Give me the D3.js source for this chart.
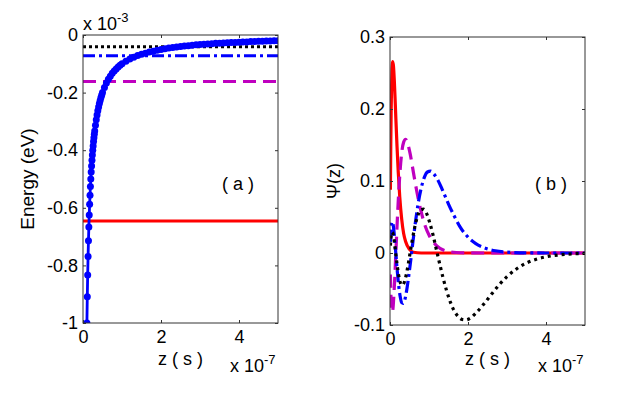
<!DOCTYPE html>
<html>
<head>
<meta charset="utf-8">
<script src="https://cdn.jsdelivr.net/npm/d3@7"></script>
<style>
  body { margin: 0; background: #fff; }
  text { font-family: "Liberation Sans", Arial, sans-serif; fill: #000; }
</style>
</head>
<body>
<svg id="chart" width="633" height="393"></svg>
<script>
"use strict";

/* Panel (a): bound energy levels (x 1e-3 eV) and the potential curve */
const levelEnergy = [-0.646, -0.1615, -0.0718, -0.0404];

const potZ = [0.10, 0.11, 0.12, 0.13, 0.14, 0.15, 0.16, 0.17, 0.18, 0.19, 0.20,
  0.21, 0.22, 0.23, 0.24, 0.25, 0.26, 0.27, 0.28, 0.29, 0.30,
  0.32, 0.34, 0.36, 0.38, 0.40, 0.42, 0.44, 0.46, 0.48, 0.50,
  0.55, 0.60, 0.65, 0.70, 0.75, 0.80, 0.85, 0.90, 0.95, 1.00,
  1.1, 1.2, 1.3, 1.4, 1.5, 1.6, 1.7, 1.8, 1.9, 2.0,
  2.1, 2.2, 2.3, 2.4, 2.5, 2.6, 2.7, 2.8, 2.9, 3.0,
  3.1, 3.2, 3.3, 3.4, 3.5, 3.6, 3.7, 3.8, 3.9, 4.0,
  4.1, 4.2, 4.3, 4.4, 4.5, 4.6, 4.7, 4.8, 4.9, 5.0];
const potE = [-1.000, -0.909, -0.833, -0.769, -0.714, -0.667, -0.625, -0.588, -0.556, -0.526, -0.500,
  -0.476, -0.455, -0.435, -0.417, -0.400, -0.385, -0.370, -0.357, -0.345, -0.333,
  -0.313, -0.294, -0.278, -0.263, -0.250, -0.238, -0.227, -0.217, -0.208, -0.200,
  -0.182, -0.167, -0.154, -0.143, -0.133, -0.125, -0.118, -0.111, -0.105, -0.100,
  -0.091, -0.083, -0.077, -0.071, -0.067, -0.063, -0.059, -0.056, -0.053, -0.050,
  -0.048, -0.045, -0.043, -0.042, -0.040, -0.038, -0.037, -0.036, -0.034, -0.033,
  -0.032, -0.031, -0.030, -0.029, -0.029, -0.028, -0.027, -0.026, -0.026, -0.025,
  -0.024, -0.024, -0.023, -0.023, -0.022, -0.022, -0.021, -0.021, -0.020, -0.020];

/* Panel (b): wave functions (z in 1e-7) */
const psi1Z = [0.01, 0.02, 0.03, 0.04, 0.05, 0.06, 0.072, 0.09, 0.11, 0.13, 0.15, 0.18, 0.21, 0.25,
  0.30, 0.35, 0.40, 0.50, 0.60, 0.80, 1.0, 2.0, 3.0, 4.0, 5.0];
const psi1 = [0.088, 0.152, 0.199, 0.230, 0.251, 0.262, 0.266, 0.259, 0.240, 0.215, 0.187, 0.148, 0.114, 0.078,
  0.047, 0.027, 0.016, 0.005, 0.001, 0, 0, 0, 0, 0, 0];

const psi2Z = [0.01, 0.02, 0.04, 0.06, 0.08, 0.10, 0.12, 0.15, 0.18, 0.22, 0.26, 0.30, 0.35, 0.40,
  0.46, 0.52, 0.60, 0.70, 0.80, 0.90, 1.0, 1.2, 1.4, 1.7, 2.0, 3.0, 4.0, 5.0];
const psi2 = [-0.030, -0.052, -0.077, -0.082, -0.075, -0.058, -0.037, 0, 0.037, 0.081, 0.115, 0.139, 0.154, 0.158,
  0.151, 0.137, 0.112, 0.082, 0.057, 0.038, 0.025, 0.010, 0.0035, 0.0007, 0.0001, 0, 0, 0];

const psi3Z = [0.01, 0.02, 0.03, 0.045, 0.06, 0.08, 0.10, 0.12, 0.15, 0.18, 0.22, 0.26, 0.30, 0.34, 0.38,
  0.43, 0.48, 0.53, 0.58, 0.65, 0.72, 0.80, 0.88, 0.96, 1.04, 1.12, 1.22, 1.35, 1.5, 1.65, 1.8,
  2.0, 2.2, 2.4, 2.7, 3.0, 3.5, 4.0, 5.0];
const psi3 = [0.0155, 0.027, 0.035, 0.042, 0.0435, 0.0395, 0.031, 0.019, -0.001, -0.021, -0.044, -0.060, -0.069, -0.070, -0.065,
  -0.051, -0.032, -0.011, 0.012, 0.042, 0.068, 0.090, 0.105, 0.1125, 0.1137, 0.110, 0.102, 0.087, 0.068, 0.051, 0.036,
  0.022, 0.013, 0.0076, 0.0031, 0.0012, 0.0002, 0, 0];

const psi4Z = [0.01, 0.02, 0.035, 0.055, 0.075, 0.095, 0.115, 0.145, 0.18, 0.22, 0.26, 0.30, 0.34, 0.38,
  0.43, 0.48, 0.52, 0.57, 0.63, 0.70, 0.78, 0.86, 0.94, 1.02, 1.10, 1.18, 1.25, 1.35, 1.45, 1.55,
  1.65, 1.75, 1.85, 1.95, 2.05, 2.2, 2.4, 2.6, 2.8, 3.0, 3.25, 3.5, 3.75, 4.0, 4.5, 5.0];
const psi4 = [0.0103, 0.018, 0.0253, 0.0288, 0.027, 0.0217, 0.0139, 0, -0.0153, -0.0303, -0.0404, -0.0447, -0.0436, -0.0382,
  -0.0266, -0.0115, 0.0015, 0.0175, 0.0347, 0.0498, 0.0596, 0.0608, 0.0547, 0.0419, 0.0258, 0.0069, -0.0094, -0.0322, -0.0522, -0.0685,
  -0.0807, -0.0883, -0.0923, -0.0928, -0.0907, -0.0835, -0.0713, -0.0574, -0.0442, -0.0328, -0.0218, -0.0139, -0.0087, -0.0053, -0.0018, -0.0006];

const xTicks = [0, 2, 4];
const energyTicks = [0, -0.2, -0.4, -0.6, -0.8, -1];
const psiTicks = [-0.1, 0, 0.1, 0.2, 0.3];

/* styles of the four states, ground state first */
const stateStyles = [
  { color: "#ff0000", dash: null },
  { color: "#bf00bf", dash: "13,7" },
  { color: "#0000ff", dash: "12,4,3,4" },
  { color: "#000000", dash: "3,4" }
];

const svg = d3.select("#chart");
const FONT = 18;

/**
 * Draws the box, the inward ticks on the four sides and the tick labels.
 */
function drawFrame(g, x, y, yTicks) {
  const fmt = d => String(d);
  const style = sel => {
    sel.select(".domain").remove();
    sel.selectAll("line").attr("stroke", "#333");
    sel.selectAll("text").attr("font-size", FONT).attr("fill", "#000")
      .style("font-family", '"Liberation Sans", Arial, sans-serif');
  };
  const [yBottom, yTop] = y.range();
  const [xLeft, xRight] = x.range();

  g.append("g").attr("transform", `translate(0,${yBottom})`)
    .call(d3.axisBottom(x).tickValues(xTicks).tickSize(-3).tickPadding(7).tickFormat(fmt)).call(style);
  g.append("g").attr("transform", `translate(0,${yTop})`)
    .call(d3.axisTop(x).tickValues(xTicks).tickSize(-3).tickFormat("")).call(style);
  g.append("g").attr("transform", `translate(${xLeft},0)`)
    .call(d3.axisLeft(y).tickValues(yTicks).tickSize(-3).tickPadding(5).tickFormat(fmt)).call(style);
  g.append("g").attr("transform", `translate(${xRight},0)`)
    .call(d3.axisRight(y).tickValues(yTicks).tickSize(-3).tickFormat("")).call(style);

  g.append("rect")
      .attr("x", xLeft).attr("y", yTop)
      .attr("width", xRight - xLeft).attr("height", yBottom - yTop)
      .attr("fill", "none").attr("stroke", "#333").attr("stroke-width", 1);
}

/**
 * Writes the "x 10^n" multiplier.
 */
function drawMultiplier(g, px, py, exponent) {
  const t = g.append("text").attr("x", px).attr("y", py).attr("font-size", 18);
  t.append("tspan").text("x 10");
  t.append("tspan").attr("dy", -8).attr("font-size", 13).text(exponent);
}

function clipFor(id, x, y) {
  svg.append("clipPath").attr("id", id)
    .append("rect")
      .attr("x", x.range()[0]).attr("y", y.range()[1])
      .attr("width", x.range()[1] - x.range()[0])
      .attr("height", y.range()[0] - y.range()[1]);
}

/* ---------- panel (a) ---------- */
const xA = d3.scaleLinear().domain([0, 5]).range([83, 278]);
const yA = d3.scaleLinear().domain([-1, 0]).range([323, 35]);
const gA = svg.append("g");
clipFor("clipA", xA, yA);
const plotA = gA.append("g").attr("clip-path", "url(#clipA)");

plotA.selectAll("line.level")
    .data(levelEnergy)
  .enter().append("line")
    .attr("class", "level")
    .attr("x1", xA(0)).attr("x2", xA(5))
    .attr("y1", d => yA(d)).attr("y2", d => yA(d))
    .attr("stroke", (d, i) => stateStyles[i].color)
    .attr("stroke-width", 3)
    .attr("stroke-dasharray", (d, i) => i === 3 ? "3,3" : stateStyles[i].dash);

const potPoints = potZ.map((z, i) => [z, potE[i]]);
plotA.append("path")
    .attr("d", d3.line().x(d => xA(d[0])).y(d => yA(d[1]))(potPoints))
    .attr("fill", "none").attr("stroke", "#0000ff").attr("stroke-width", 2.8);
plotA.selectAll("circle.pot")
    .data(potPoints)
  .enter().append("circle")
    .attr("class", "pot")
    .attr("cx", d => xA(d[0])).attr("cy", d => yA(d[1]))
    .attr("r", 3.5).attr("fill", "#0000ff");

drawFrame(gA, xA, yA, energyTicks);
drawMultiplier(gA, 83, 30, "-3");
drawMultiplier(gA, 230, 372, "-7");
gA.append("text").attr("x", 180.5).attr("y", 365).attr("text-anchor", "middle")
  .attr("font-size", FONT).text("z ( s )");
gA.append("text").attr("transform", "translate(34,179) rotate(-90)").attr("text-anchor", "middle")
  .attr("font-size", 19).text("Energy (eV)");
gA.append("text").attr("x", 222).attr("y", 190).attr("font-size", FONT).text("( a )");

/* ---------- panel (b) ---------- */
const xB = d3.scaleLinear().domain([0, 5]).range([390, 585]);
const yB = d3.scaleLinear().domain([-0.1, 0.3]).range([325, 37]);
const gB = svg.append("g");
clipFor("clipB", xB, yB);
const plotB = gB.append("g").attr("clip-path", "url(#clipB)");

const states = [[psi1Z, psi1], [psi2Z, psi2], [psi3Z, psi3], [psi4Z, psi4]];
const waveLine = d3.line().x(d => xB(d[0])).y(d => yB(d[1])).curve(d3.curveMonotoneX);

plotB.selectAll("path.wave")
    .data(states)
  .enter().append("path")
    .attr("class", "wave")
    .attr("d", d => waveLine(d[0].map((z, i) => [z, d[1][i]])))
    .attr("fill", "none")
    .attr("stroke", (d, i) => stateStyles[i].color)
    .attr("stroke-width", 3.2)
    .attr("stroke-dasharray", (d, i) => stateStyles[i].dash);

drawFrame(gB, xB, yB, psiTicks);
drawMultiplier(gB, 538, 372, "-7");
gB.append("text").attr("x", 487.5).attr("y", 365).attr("text-anchor", "middle")
  .attr("font-size", FONT).text("z ( s )");
gB.append("text").attr("transform", "translate(340,181) rotate(-90)").attr("text-anchor", "middle")
  .attr("font-size", FONT).text("Ψ(z)");
gB.append("text").attr("x", 535).attr("y", 190).attr("font-size", FONT).text("( b )");
</script>
</body>
</html>
